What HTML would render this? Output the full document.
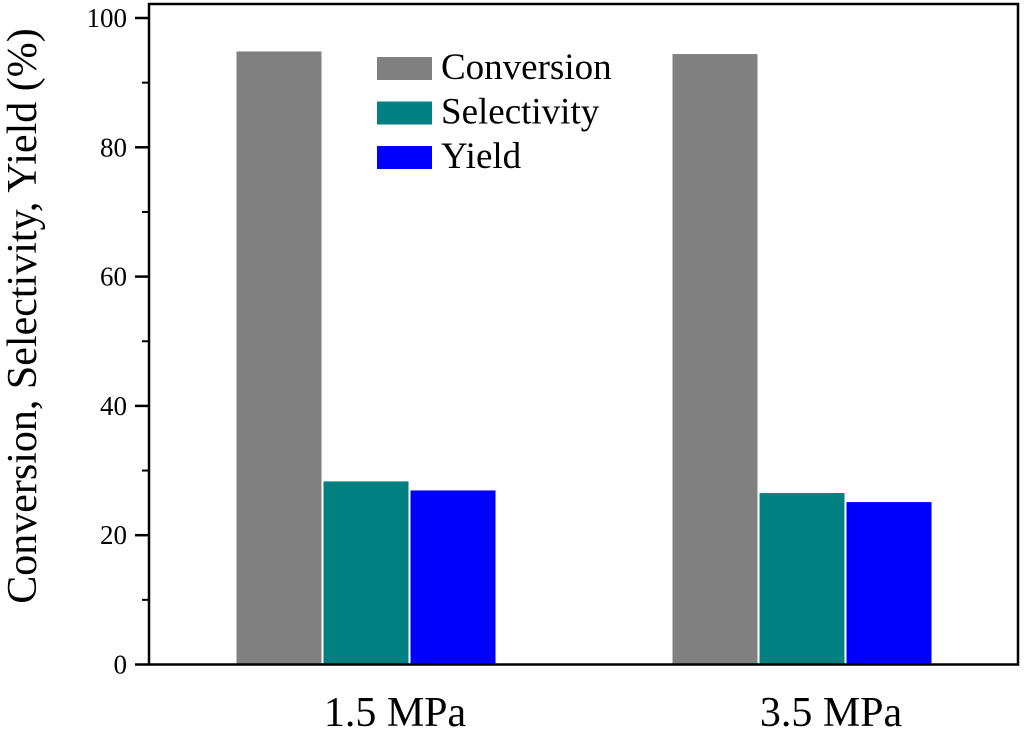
<!DOCTYPE html>
<html><head><meta charset="utf-8"><style>
html,body{margin:0;padding:0;background:#fff;}
svg{display:block;font-family:"Liberation Serif",serif;}
</style></head><body>
<svg id="chart" width="1024" height="732"></svg>
<script>
const categories = ["1.5 MPa", "3.5 MPa"];
const seriesNames = ["Conversion", "Selectivity", "Yield"];
const conversion = [94.9, 94.5];
const selectivity = [28.4, 26.6];
const yieldVals = [27.0, 25.2];
const yTicks = [0, 20, 40, 60, 80, 100];

const NS = "http://www.w3.org/2000/svg";
const svg = document.getElementById("chart");
const colors = ["#808080", "#008080", "#0000ff"];
const x0 = 149, x1 = 1018, yTop = 4, yBase = 664.5;
const yScale = v => yBase - v * (yBase - 18) / 100;
const groupStart = [236, 672];
const barW = 86, gap = 1;
function el(tag, attrs, text) {
  const e = document.createElementNS(NS, tag);
  for (const k in attrs) e.setAttribute(k, attrs[k]);
  if (text !== undefined) e.textContent = text;
  svg.appendChild(e);
  return e;
}
const series = [conversion, selectivity, yieldVals];
series.forEach((vals, s) => {
  vals.forEach((v, i) => {
    const x = groupStart[i] + s * (barW + gap);
    const r = el("rect", {x: x, y: yScale(v), width: barW, height: yBase - yScale(v), fill: colors[s], stroke: "#fff", "stroke-width": 1});
    
    
  });
});
const fr = el("rect", {x: x0, y: yTop, width: x1 - x0, height: yBase - yTop, fill: "none", stroke: "#000", "stroke-width": 2.5});


yTicks.forEach(t => {
  const y = yScale(t);
  const l = el("line", {x1: x0 - 14, x2: x0, y1: y, y2: y, stroke: "#000", "stroke-width": 2.5});
  
  
  const tx = el("text", {x: x0 - 22, y: y + 9, "text-anchor": "end", "font-size": 27}, String(t));
  
  
  if (t < 100) {
    const ym = yScale(t + 10);
    const m = el("line", {x1: x0 - 7, x2: x0, y1: ym, y2: ym, stroke: "#000", "stroke-width": 2});
    
    
  }
});
categories.forEach((c, i) => {
  const cx = groupStart[i] + 1.5 * barW + gap + 29;
  const t = el("text", {x: cx, y: 726, "text-anchor": "middle", "font-size": 42}, c);
  
  
});
const yt = el("text", {x: 0, y: 0, "text-anchor": "middle", "font-size": 42, transform: "translate(36,316) rotate(-90)"}, "Conversion, Selectivity, Yield (%)");


seriesNames.forEach((n, s) => {
  const y = 57 + s * 44.5;
  const r = el("rect", {x: 377, y: y, width: 55, height: 23, fill: colors[s]});
  
  
  const t = el("text", {x: 441, y: y + 22, "font-size": 37}, n);
  
  
});
</script>
</body></html>
